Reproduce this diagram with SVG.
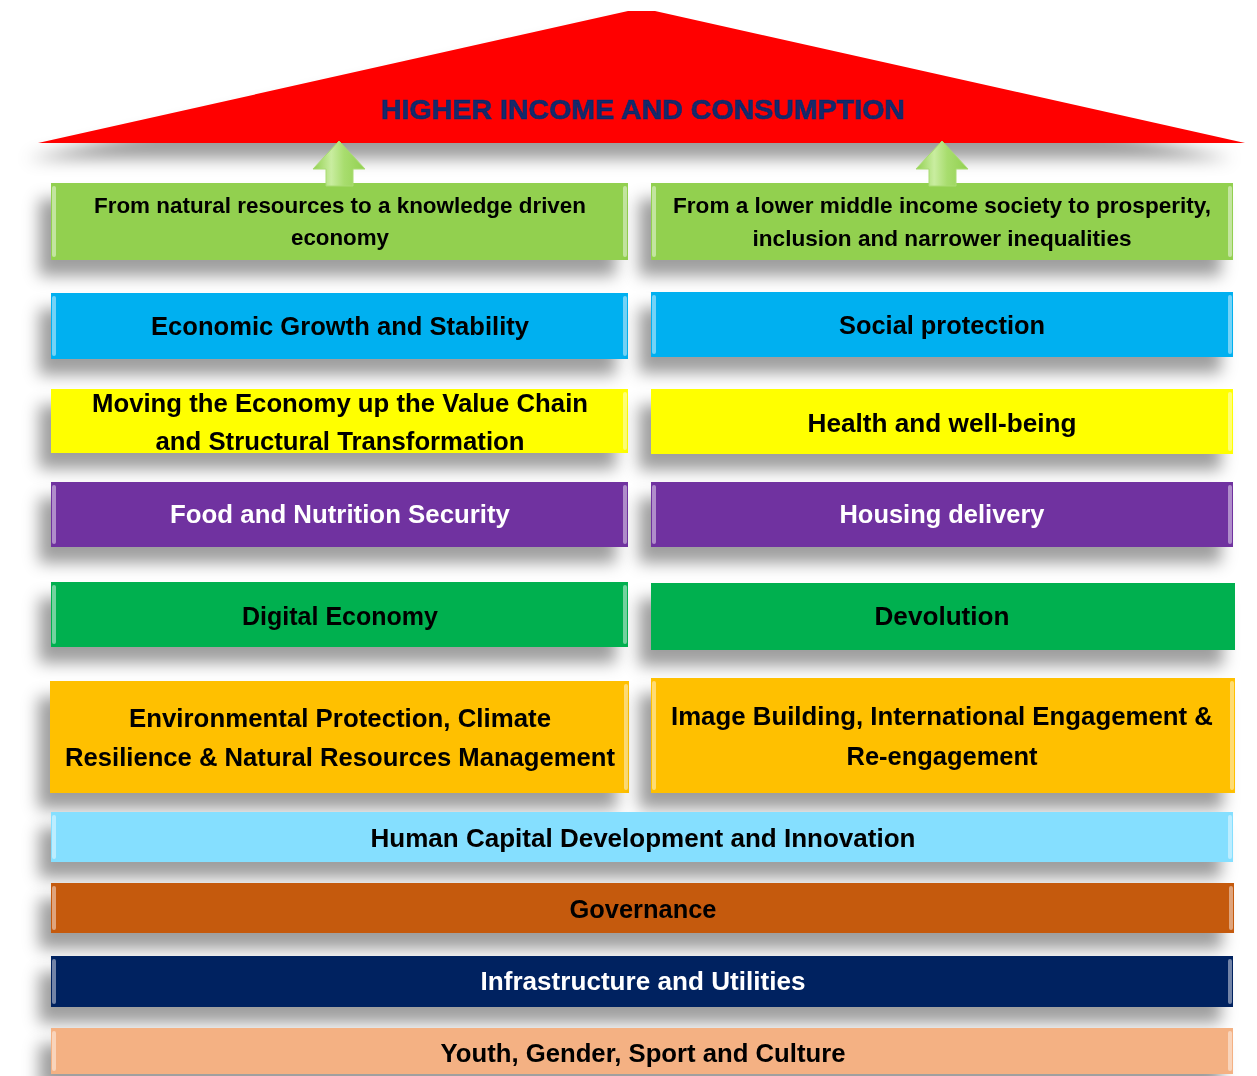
<svg xmlns="http://www.w3.org/2000/svg" width="1257" height="1076" viewBox="0 0 1257 1076">
<style>
  .t { font-family: "Liberation Sans", Arial, sans-serif; font-weight: bold; text-anchor: middle; fill: #000; }
  .w { fill: #fff; }
  .s21 { font-size: 22px; }
  .s25 { font-size: 26px; }
  .box { filter: url(#sh); }
  .hl { fill: #fff; fill-opacity: 0.45; }
</style>
<defs>
  <filter id="sh" x="-10%" y="-40%" width="120%" height="200%">
    <feGaussianBlur in="SourceAlpha" stdDeviation="8"/>
    <feOffset dx="-12" dy="16" result="b"/>
    <feFlood flood-color="#000" flood-opacity="0.38"/>
    <feComposite in2="b" operator="in"/>
    <feMerge><feMergeNode/><feMergeNode in="SourceGraphic"/></feMerge>
  </filter>
  <linearGradient id="arrowG" x1="0" y1="0" x2="1" y2="0">
    <stop offset="0" stop-color="#92D050"/>
    <stop offset="0.35" stop-color="#C9EDA0"/>
    <stop offset="0.6" stop-color="#A8DD6E"/>
    <stop offset="1" stop-color="#92D050"/>
  </linearGradient>
</defs>
<rect width="1257" height="1076" fill="#fff"/>

<g id="roof" class="box">
  <polygon points="38,143 628,11 655,11 1245,143" fill="#FF0000"/>
  <text class="t" x="643" y="119" font-size="27" style="fill:#12296B;stroke:#12296B;stroke-width:0.6" textLength="524" lengthAdjust="spacingAndGlyphs">HIGHER INCOME AND CONSUMPTION</text>
</g>

<g id="left-goal" class="box">
  <rect x="51" y="183" width="577" height="77" fill="#92D050"/>
  <rect class="hl" x="52" y="186" width="4" height="71" rx="2"/><rect class="hl" x="623" y="186" width="4" height="71" rx="2"/>
  <text class="t s21" x="340" y="213" textLength="492" lengthAdjust="spacingAndGlyphs">From natural resources to a knowledge driven</text>
  <text class="t s21" x="340" y="245" textLength="98" lengthAdjust="spacingAndGlyphs">economy</text>
</g>
<g id="right-goal" class="box">
  <rect x="651" y="183" width="582" height="77" fill="#92D050"/>
  <rect class="hl" x="652" y="186" width="4" height="71" rx="2"/><rect class="hl" x="1228" y="186" width="4" height="71" rx="2"/>
  <text class="t s21" x="942" y="213" textLength="538" lengthAdjust="spacingAndGlyphs">From a lower middle income society to prosperity,</text>
  <text class="t s21" x="942" y="246" textLength="379" lengthAdjust="spacingAndGlyphs">inclusion and narrower inequalities</text>
</g>

<g id="economic-growth" class="box">
  <rect x="51" y="293" width="577" height="66" fill="#00B0F0"/>
  <rect class="hl" x="52" y="296" width="4" height="60" rx="2"/><rect class="hl" x="623" y="296" width="4" height="60" rx="2"/>
  <text class="t s25" x="340" y="335" textLength="378" lengthAdjust="spacingAndGlyphs">Economic Growth and Stability</text>
</g>
<g id="social-protection" class="box">
  <rect x="651" y="292" width="582" height="65" fill="#00B0F0"/>
  <rect class="hl" x="652" y="295" width="4" height="59" rx="2"/><rect class="hl" x="1228" y="295" width="4" height="59" rx="2"/>
  <text class="t s25" x="942" y="334" textLength="206" lengthAdjust="spacingAndGlyphs">Social protection</text>
</g>

<g id="value-chain" class="box">
  <rect x="51" y="389" width="577" height="64" fill="#FFFF00"/>
  <rect class="hl" x="623" y="392" width="4" height="58" rx="2"/>
  <text class="t s25" x="340" y="412" textLength="496" lengthAdjust="spacingAndGlyphs">Moving the Economy up the Value Chain</text>
  <text class="t s25" x="340" y="450" textLength="369" lengthAdjust="spacingAndGlyphs">and Structural Transformation</text>
</g>
<g id="health" class="box">
  <rect x="651" y="389" width="582" height="65" fill="#FFFF00"/>
  <rect class="hl" x="1228" y="392" width="4" height="59" rx="2"/>
  <text class="t s25" x="942" y="432" textLength="269" lengthAdjust="spacingAndGlyphs">Health and well-being</text>
</g>

<g id="food-security" class="box">
  <rect x="51" y="482" width="577" height="65" fill="#7030A0"/>
  <rect class="hl" x="52" y="485" width="4" height="59" rx="2"/><rect class="hl" x="623" y="485" width="4" height="59" rx="2"/>
  <text class="t w s25" x="340" y="523" textLength="340" lengthAdjust="spacingAndGlyphs">Food and Nutrition Security</text>
</g>
<g id="housing" class="box">
  <rect x="651" y="482" width="582" height="65" fill="#7030A0"/>
  <rect class="hl" x="652" y="485" width="4" height="59" rx="2"/><rect class="hl" x="1228" y="485" width="4" height="59" rx="2"/>
  <text class="t w s25" x="942" y="523" textLength="205" lengthAdjust="spacingAndGlyphs">Housing delivery</text>
</g>

<g id="digital-economy" class="box">
  <rect x="51" y="582" width="577" height="65" fill="#00B050"/>
  <rect class="hl" x="52" y="585" width="4" height="59" rx="2"/><rect class="hl" x="623" y="585" width="4" height="59" rx="2"/>
  <text class="t s25" x="340" y="625" textLength="196" lengthAdjust="spacingAndGlyphs">Digital Economy</text>
</g>
<g id="devolution" class="box">
  <rect x="651" y="583" width="584" height="67" fill="#00B050"/>
  <text class="t s25" x="942" y="625" textLength="135" lengthAdjust="spacingAndGlyphs">Devolution</text>
</g>

<g id="environment" class="box">
  <rect x="50" y="681" width="579" height="112" fill="#FFC000"/>
  <rect class="hl" x="624" y="684" width="4" height="106" rx="2"/>
  <text class="t s25" x="340" y="727" textLength="422" lengthAdjust="spacingAndGlyphs">Environmental Protection, Climate</text>
  <text class="t s25" x="340" y="766" textLength="550" lengthAdjust="spacingAndGlyphs">Resilience &amp; Natural Resources Management</text>
</g>
<g id="image-building" class="box">
  <rect x="651" y="678" width="584" height="115" fill="#FFC000"/>
  <rect class="hl" x="652" y="681" width="4" height="109" rx="2"/><rect class="hl" x="1230" y="681" width="4" height="109" rx="2"/>
  <text class="t s25" x="942" y="725" textLength="542" lengthAdjust="spacingAndGlyphs">Image Building, International Engagement &amp;</text>
  <text class="t s25" x="942" y="765" textLength="191" lengthAdjust="spacingAndGlyphs">Re-engagement</text>
</g>

<g id="human-capital" class="box">
  <rect x="51" y="812" width="1182" height="50" fill="#85DFFF"/>
  <rect class="hl" x="52" y="815" width="4" height="44" rx="2"/><rect class="hl" x="1228" y="815" width="4" height="44" rx="2"/>
  <text class="t s25" x="643" y="847" textLength="545" lengthAdjust="spacingAndGlyphs">Human Capital Development and Innovation</text>
</g>
<g id="governance" class="box">
  <rect x="51" y="883" width="1183" height="50" fill="#C55A11"/>
  <rect class="hl" x="52" y="886" width="4" height="44" rx="2"/><rect class="hl" x="1229" y="886" width="4" height="44" rx="2"/>
  <text class="t s25" x="643" y="918" textLength="147" lengthAdjust="spacingAndGlyphs">Governance</text>
</g>
<g id="infrastructure" class="box">
  <rect x="51" y="956" width="1182" height="51" fill="#002060"/>
  <rect class="hl" x="52" y="959" width="4" height="45" rx="2" fill-opacity="0.3"/><rect class="hl" x="1228" y="959" width="4" height="45" rx="2" fill-opacity="0.3"/>
  <text class="t w s25" x="643" y="990" textLength="325" lengthAdjust="spacingAndGlyphs">Infrastructure and Utilities</text>
</g>
<g id="youth" class="box">
  <rect x="51" y="1028" width="1182" height="46" fill="#F4B183"/>
  <rect class="hl" x="52" y="1031" width="4" height="40" rx="2"/><rect class="hl" x="1228" y="1031" width="4" height="40" rx="2"/>
  <text class="t s25" x="643" y="1062" textLength="405" lengthAdjust="spacingAndGlyphs">Youth, Gender, Sport and Culture</text>
</g>

<g id="connectors">
  <polygon points="339,141 365,169 353,169 353,186 326,186 326,169 313,169" fill="url(#arrowG)" stroke="#A9DC72" stroke-width="1"/>
  <polygon points="942,141 968,169 956,169 956,186 929,186 929,169 916,169" fill="url(#arrowG)" stroke="#A9DC72" stroke-width="1"/>
</g>
</svg>
